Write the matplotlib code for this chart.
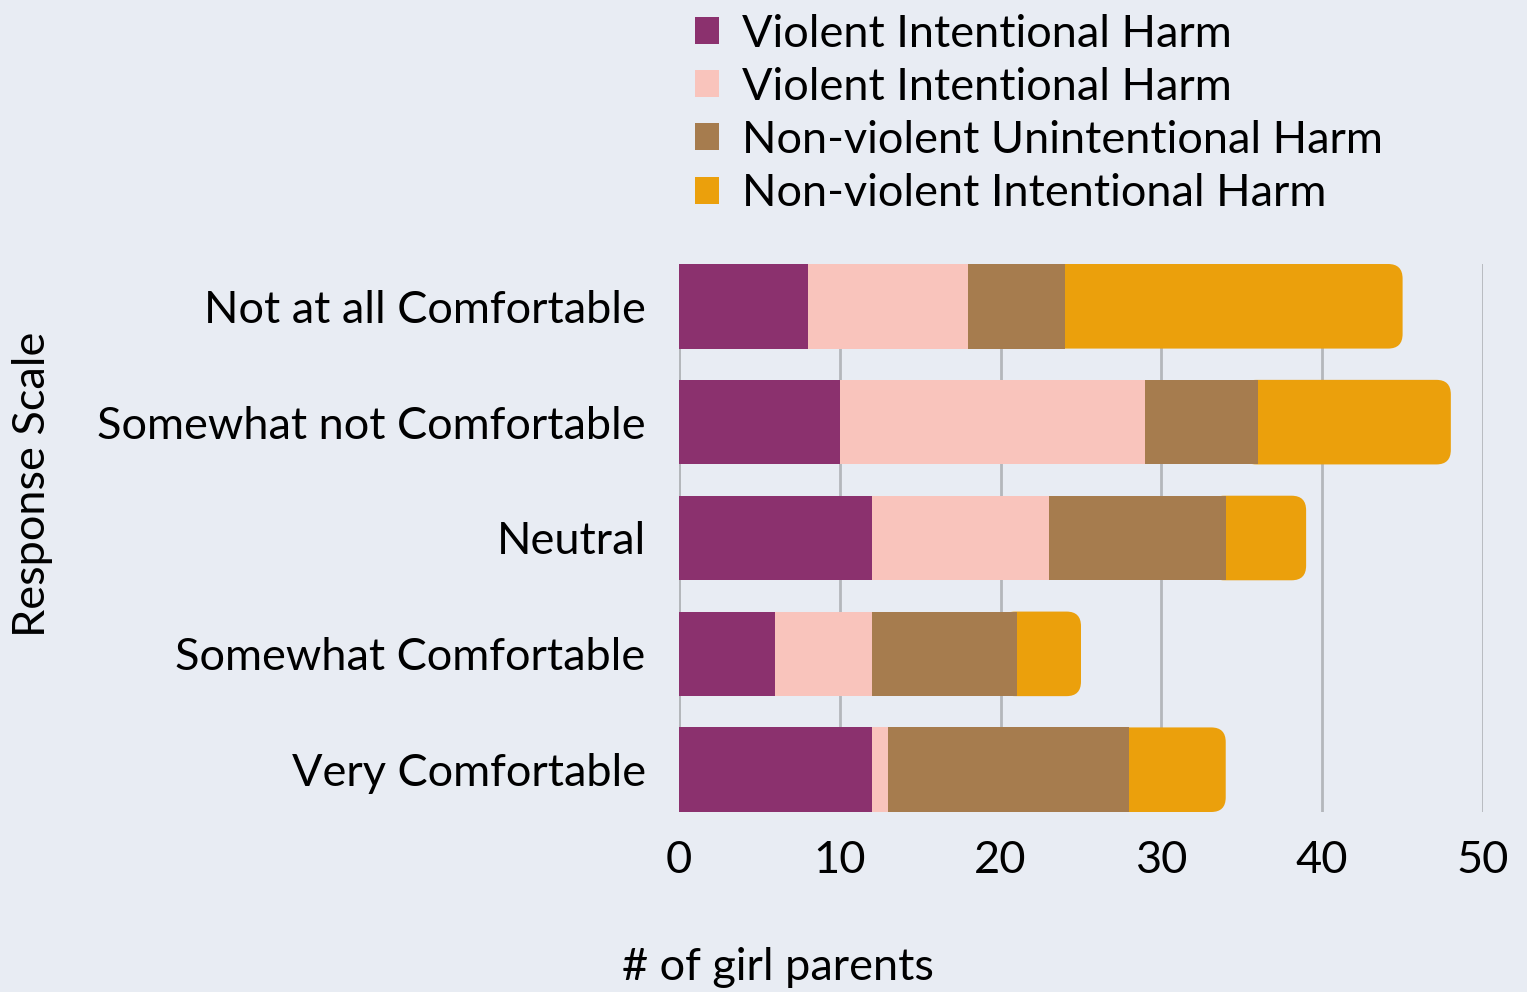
import matplotlib.pyplot as plt
from matplotlib.patches import FancyBboxPatch, Patch

plt.rcParams['font.family'] = ['Lato', 'DejaVu Sans']

# data
categories = ["Not at all Comfortable", "Somewhat not Comfortable", "Neutral",
              "Somewhat Comfortable", "Very Comfortable"]
violent_intentional = [8, 10, 12, 6, 12]
violent_intentional_2 = [10, 19, 11, 6, 1]
nonviolent_unintentional = [6, 7, 11, 9, 15]
nonviolent_intentional = [21, 12, 5, 4, 6]

series_names = ["Violent Intentional Harm", "Violent Intentional Harm",
                "Non-violent Unintentional Harm", "Non-violent Intentional Harm"]
colors = ["#8B316E", "#F9C4BC", "#A67C4E", "#EBA00C"]
bg = "#E8ECF3"
fs = 32.5

fig = plt.figure(figsize=(15.27, 9.92), dpi=100, facecolor=bg)
ax = fig.add_axes([679 / 1527, 180 / 992, 804 / 1527, 548 / 992], facecolor=bg)

h = 0.73
ypos = list(range(len(categories)))
series = [violent_intentional, violent_intentional_2, nonviolent_unintentional, nonviolent_intentional]

# rounded last segment, drawn underneath and starting behind the previous segment
for i in ypos:
    start = sum(s[i] for s in series[:3])
    total = start + series[3][i]
    left = start - 1
    box = FancyBboxPatch((left, i - h / 2), total - left, h,
                         boxstyle="round,pad=0,rounding_size=0.9",
                         mutation_aspect=0.14, fc=colors[3], ec="none", zorder=2)
    ax.add_patch(box)

lefts = [0] * len(categories)
for vals, col in zip(series[:3], colors[:3]):
    ax.barh(ypos, vals, left=lefts, height=h, color=col, zorder=3)
    lefts = [a + b for a, b in zip(lefts, vals)]

ax.set_xlim(0, 50)
ax.set_ylim(len(categories) - 1 + h / 2, -h / 2)
ax.set_xticks(range(0, 51, 10))
ax.set_yticks(ypos)
ax.set_yticklabels(categories)
ax.grid(axis='x', color='#B4B7BB', linewidth=2, zorder=1)
ax.axvline(0, color='#B4B7BB', linewidth=2, zorder=1)
for sp in ax.spines.values():
    sp.set_visible(False)
ax.tick_params(length=0, labelsize=fs)
ax.tick_params(axis='x', pad=20)
ax.tick_params(axis='y', pad=24)

fig.text(33 / 1527, 1 - 484 / 992, "Response Scale", rotation=90, fontsize=fs,
         ha='center', va='center')
fig.text(778 / 1527, 1 - 968 / 992, "# of girl parents", fontsize=fs,
         ha='center', va='center')

handles = [Patch(fc=c, ec='none') for c in colors]
fig.legend(handles, series_names, loc='upper left', bbox_to_anchor=(690 / 1527, 1.0 - 9 / 992),
           frameon=False, fontsize=fs, handlelength=0.54, handleheight=0.54,
           handletextpad=0.52, labelspacing=0.27, borderaxespad=0, borderpad=0.1)

fig.savefig("out.png", dpi=100, facecolor=bg)
